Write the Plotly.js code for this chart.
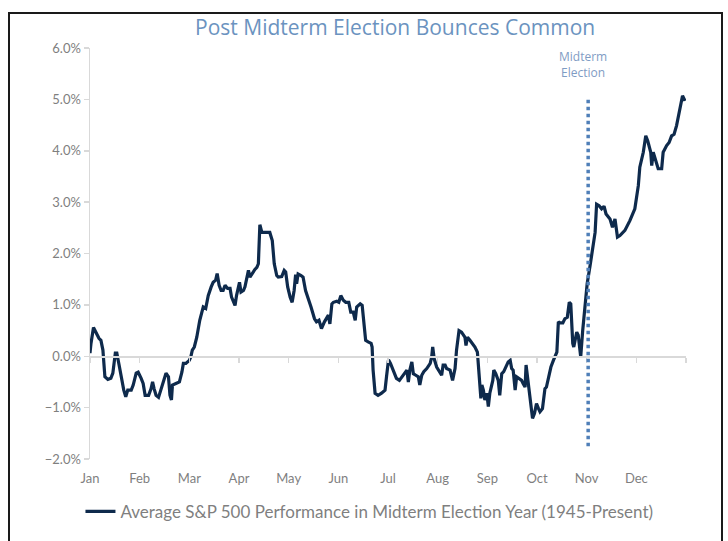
<!DOCTYPE html>
<html>
<head>
<meta charset="utf-8">
<script src="https://cdn.plot.ly/plotly-3.0.1.min.js"></script>
<style>
  html, body { margin: 0; padding: 0; background: #ffffff; }
  #wrap { position: relative; width: 728px; height: 541px; overflow: hidden; }
  #chart { position: absolute; left: 0; top: 0; width: 728px; height: 541px; }
  #frame { position: absolute; left: 8px; top: 12px; width: 715px; height: 560px;
           border: 2px solid #1a1a1a; box-sizing: border-box; pointer-events: none; }
</style>
</head>
<body>
<div id="wrap">
  <div id="chart"></div>
  <div id="frame"></div>
</div>
<script>
// Month labels (position = months elapsed since Jan 1)
const monthLabels = ["Jan","Feb","Mar","Apr","May","Jun","Jul","Aug","Sep","Oct","Nov","Dec"];
const monthTicks = [0,1,2,3,4,5,6,7,8,9,10,11];
const boundaryTicks = [0,1,2,3,4,5,6,7,8,9,10,11,12];

// Average S&P 500 performance (%) in midterm election years, by fractional month
const timeMonths = [
  0.00,0.02,0.07,0.12,0.18,0.22,0.26,0.30,0.36,0.42,0.46,0.51,0.54,0.58,0.64,0.68,0.72,0.76,0.83,0.87,
  0.93,0.97,1.03,1.07,1.11,1.18,1.23,1.26,1.29,1.33,1.38,1.43,1.48,1.53,1.58,1.61,1.64,1.66,1.73,1.80,
  1.85,1.88,1.93,2.00,2.03,2.06,2.10,2.15,2.21,2.26,2.28,2.33,2.38,2.44,2.48,2.53,2.56,2.60,2.64,2.68,
  2.72,2.77,2.82,2.85,2.92,2.95,2.99,3.01,3.04,3.09,3.12,3.15,3.19,3.22,3.26,3.32,3.36,3.39,3.42,3.46,
  3.52,3.62,3.67,3.71,3.76,3.79,3.86,3.91,3.94,3.98,4.03,4.07,4.11,4.14,4.16,4.19,4.25,4.29,4.34,4.39,
  4.45,4.52,4.56,4.61,4.66,4.72,4.77,4.80,4.83,4.87,4.90,4.97,5.01,5.05,5.10,5.15,5.21,5.25,5.30,5.34,
  5.37,5.44,5.48,5.52,5.55,5.60,5.66,5.68,5.70,5.74,5.80,5.87,5.94,5.97,6.01,6.05,6.12,6.17,6.23,6.28,
  6.34,6.38,6.41,6.44,6.48,6.51,6.56,6.61,6.64,6.68,6.72,6.78,6.85,6.88,6.90,6.93,6.98,7.05,7.08,7.11,
  7.15,7.18,7.25,7.30,7.35,7.38,7.43,7.48,7.52,7.55,7.57,7.60,7.65,7.70,7.75,7.80,7.84,7.87,7.89,7.92,
  7.95,7.99,8.02,8.05,8.11,8.13,8.17,8.22,8.25,8.29,8.33,8.38,8.42,8.46,8.49,8.52,8.56,8.59,8.64,8.69,
  8.72,8.76,8.78,8.80,8.84,8.87,8.91,8.95,8.99,9.03,9.06,9.11,9.16,9.19,9.23,9.28,9.33,9.36,9.40,9.43,
  9.46,9.52,9.56,9.61,9.65,9.68,9.72,9.74,9.80,9.83,9.88,9.92,9.97,10.01,10.07,10.13,10.17,10.20,10.25,10.30,
  10.35,10.39,10.47,10.52,10.57,10.62,10.67,10.77,10.87,10.97,11.04,11.07,11.14,11.19,11.23,11.29,11.31,11.34,11.39,11.44,
  11.51,11.54,11.61,11.66,11.71,11.76,11.81,11.88,11.93,11.98
];
const avgPerformance = [
  0.06,0.25,0.56,0.45,0.35,0.31,0.12,-0.40,-0.45,-0.43,-0.33,0.06,0.06,-0.14,-0.47,-0.66,-0.79,-0.66,-0.66,-0.56,
  -0.33,-0.31,-0.43,-0.53,-0.76,-0.76,-0.63,-0.50,-0.63,-0.76,-0.80,-0.63,-0.47,-0.33,-0.40,-0.76,-0.85,-0.56,-0.53,-0.50,
  -0.31,-0.14,-0.14,-0.08,-0.01,0.12,0.18,0.37,0.70,0.89,0.96,0.93,1.18,1.35,1.44,1.48,1.61,1.38,1.28,1.28,
  1.38,1.32,1.32,1.15,0.99,1.18,1.38,1.44,1.25,1.28,1.35,1.48,1.67,1.54,1.61,1.69,1.73,1.80,2.56,2.41,
  2.41,2.41,2.25,1.80,1.57,1.54,1.55,1.67,1.64,1.35,1.15,1.05,1.28,1.59,1.41,1.60,1.57,1.54,1.28,1.15,
  0.96,0.73,0.67,0.70,0.54,0.67,0.76,0.80,0.63,1.02,1.05,1.07,1.05,1.18,1.09,1.05,1.05,0.86,0.86,0.70,
  0.96,1.02,0.99,0.63,0.31,0.28,0.25,0.18,-0.27,-0.72,-0.76,-0.72,-0.66,-0.40,-0.07,-0.14,-0.30,-0.43,-0.47,-0.40,
  -0.30,-0.27,-0.50,-0.27,-0.11,-0.34,-0.37,-0.40,-0.56,-0.37,-0.30,-0.24,-0.14,-0.01,0.18,-0.05,-0.21,-0.34,-0.37,-0.17,
  -0.17,-0.24,-0.27,-0.47,-0.24,0.12,0.50,0.47,0.41,0.37,0.21,0.37,0.31,0.25,0.18,0.08,-0.40,-0.82,-0.56,-0.66,
  -0.85,-0.72,-0.98,-0.72,-0.47,-0.27,-0.34,-0.47,-0.76,-0.34,-0.30,-0.21,-0.11,-0.08,-0.24,-0.27,-0.66,-0.40,-0.44,-0.47,
  -0.53,-0.60,-0.17,-0.34,-0.60,-0.85,-1.21,-1.11,-0.92,-1.02,-1.08,-1.02,-0.63,-0.60,-0.40,-0.21,-0.08,-0.01,0.08,0.67,
  0.65,0.65,0.73,0.76,1.05,1.02,0.25,0.18,0.47,0.41,-0.01,0.50,1.09,1.41,1.77,2.22,2.41,2.96,2.93,2.87,
  2.92,2.77,2.67,2.51,2.67,2.32,2.35,2.45,2.64,2.87,3.32,3.68,3.97,4.29,4.19,3.97,3.71,3.97,3.78,3.65,
  3.65,3.97,4.10,4.16,4.29,4.32,4.49,4.81,5.07,4.97
];

// Midterm election marker
const electionMonth = 10.03;
const electionLineTop = 5.0;
const electionLineBottom = -1.75;
const electionLabel = "Midterm<br>Election";
const electionLabelY = 5.68;

const seriesName = "Average S&P 500 Performance in Midterm Election Year (1945-Present)";
const chartTitle = "Post Midterm Election Bounces Common";

const axisGray = "#d9d9d9";
const textGray = "#7f7f7f";
const FONT = "Lato, 'Open Sans', sans-serif";
const TITLE_FONT = "'Open Sans', Lato, sans-serif";

const traces = [
  {
    x: timeMonths, y: avgPerformance, type: "scatter", mode: "lines",
    name: seriesName,
    line: { color: "#0e2a4c", width: 3.2, shape: "linear" },
    hoverinfo: "skip"
  },
  {
    x: [null], y: [null], xaxis: "x2", yaxis: "y", type: "scatter", mode: "lines",
    showlegend: false, hoverinfo: "skip"
  }
];

const layout = {
  width: 728, height: 541,
  margin: { l: 90, r: 42, t: 48, b: 81 },
  paper_bgcolor: "rgba(0,0,0,0)", plot_bgcolor: "rgba(0,0,0,0)",
  font: { family: FONT, color: textGray },
  title: {
    text: chartTitle,
    font: { family: TITLE_FONT, size: 21, color: "#6b93c0" },
    x: 0.512, xref: "paper", xanchor: "center",
    y: 1 - 28 / 541, yref: "container", yanchor: "middle"
  },
  xaxis: {
    range: [0, 12], tickvals: monthTicks, ticktext: monthLabels,
    showgrid: false, zeroline: false, showline: false, ticks: "",
    tickfont: { family: FONT, size: 13, color: textGray },
    ticklabelstandoff: 10
  },
  xaxis2: {
    overlaying: "x", matches: "x", anchor: "free", position: 0.25,
    range: [0, 12], tickvals: boundaryTicks,
    showticklabels: false, showgrid: false, zeroline: false,
    showline: true, linecolor: axisGray, linewidth: 1.5,
    ticks: "outside", ticklen: 5, tickcolor: axisGray, tickwidth: 1.5
  },
  yaxis: {
    range: [-2, 6], dtick: 1, tick0: 0, tickformat: ".1f", ticksuffix: "%",
    showgrid: false, zeroline: false,
    showline: true, linecolor: axisGray, linewidth: 1.5,
    ticks: "outside", ticklen: 5, tickcolor: axisGray, tickwidth: 1.5,
    tickfont: { family: FONT, size: 13, color: textGray }
  },
  showlegend: true,
  legend: {
    orientation: "h", x: -0.016, xanchor: "left", y: -0.126, yanchor: "middle",
    font: { family: FONT, size: 17, color: textGray },
    bgcolor: "rgba(0,0,0,0)"
  },
  shapes: [
    {
      type: "line", xref: "x", yref: "y",
      x0: electionMonth, x1: electionMonth, y0: electionLineBottom, y1: electionLineTop,
      line: { color: "#4f7fb8", width: 3.5, dash: "dot" }, layer: "above"
    }
  ],
  annotations: [
    {
      x: electionMonth - 0.1, y: electionLabelY, xref: "x", yref: "y",
      text: electionLabel, showarrow: false,
      font: { family: TITLE_FONT, size: 12, color: "#7f9cc4" },
      align: "center"
    }
  ]
};

Plotly.newPlot("chart", traces, layout, { staticPlot: true, displayModeBar: false });
</script>
</body>
</html>
